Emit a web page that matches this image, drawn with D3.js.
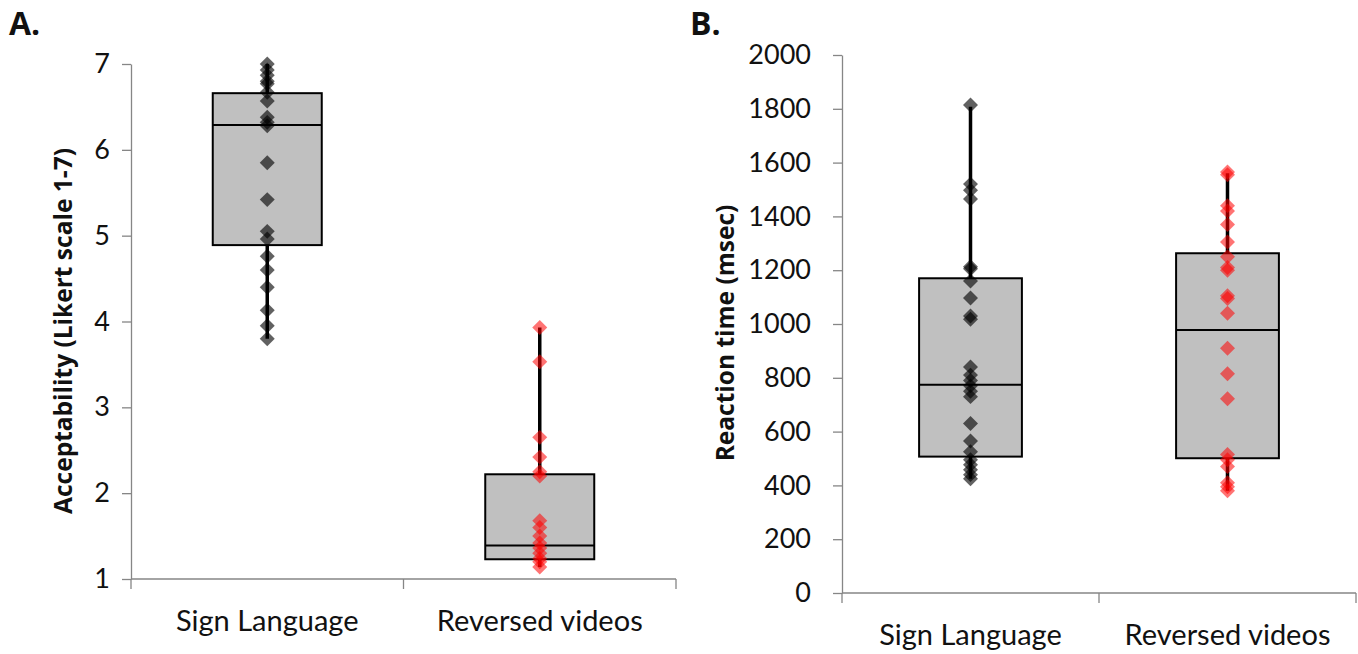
<!DOCTYPE html>
<html>
<head>
<meta charset="utf-8">
<script src="https://cdn.jsdelivr.net/npm/d3@7"></script>
<style>
  html, body { margin: 0; padding: 0; background: #fff; }
  svg { display: block; font-family: Lato, "Open Sans", sans-serif; }
</style>
</head>
<body>
<svg id="chart" width="1358" height="654"></svg>
<script>
// ---------- data ----------
const categories = ["Sign Language", "Reversed videos"];

// Panel A: acceptability (Likert 1-7)
const ticksA = [1, 2, 3, 4, 5, 6, 7];
const signA = [7.0, 6.93, 6.87, 6.8, 6.77, 6.67, 6.57, 6.38, 6.32, 6.28, 5.85, 5.42, 5.05, 4.96, 4.76, 4.6, 4.4, 4.13, 3.95, 3.8];
const revA = [3.93, 3.53, 2.65, 2.42, 2.25, 2.2, 1.68, 1.6, 1.5, 1.42, 1.36, 1.3, 1.24, 1.2, 1.14];
const minA = [3.80, 1.14];
const q1A = [4.89, 1.23];
const medA = [6.29, 1.39];
const q3A = [6.66, 2.22];
const maxA = [7.0, 3.93];

// Panel B: reaction time (msec)
const ticksB = [0, 200, 400, 600, 800, 1000, 1200, 1400, 1600, 1800, 2000];
const signB = [1814, 1520, 1497, 1465, 1213, 1205, 1160, 1097, 1030, 1018, 840, 810, 790, 770, 750, 730, 630, 565, 525, 495, 477, 458, 440, 425];
const revB = [1565, 1555, 1440, 1420, 1370, 1305, 1250, 1210, 1200, 1105, 1095, 1040, 910, 815, 722, 515, 495, 470, 410, 395, 380];
const minB = [425, 380];
const q1B = [507, 501];
const medB = [774, 978];
const q3B = [1170, 1263];
const maxB = [1808, 1560];

const pointColors = ["#000000", "#ff0000"];

// ---------- drawing ----------
const svg = d3.select("#chart");

function panel(opt) {
  const g = svg.append("g");
  const x = d3.scaleBand().domain(categories).range(opt.xRange).paddingInner(0).paddingOuter(0);
  const y = d3.scaleLinear().domain(opt.yDomain).range(opt.yRange);
  const bw = x.bandwidth();
  const boxW = bw * 0.4;

  // y axis
  const yAxis = g.append("g")
    .attr("transform", `translate(${opt.xRange[0]},0)`)
    .call(d3.axisLeft(y).tickValues(opt.ticks).tickFormat(d3.format("d"))
      .tickSize(9).tickSizeOuter(0).tickPadding(opt.tickPad));
  yAxis.attr("font-family", null).attr("font-size", null);
  yAxis.select(".domain").attr("stroke", "#868686").attr("stroke-width", 1.3);
  yAxis.selectAll(".tick line").attr("stroke", "#868686").attr("stroke-width", 1.3);
  yAxis.selectAll(".tick text").attr("font-size", 27).attr("fill", "#111")
    .attr("font-family", "Lato, sans-serif");

  // x axis
  const yBase = y(opt.yDomain[0]);
  const xa = g.append("g");
  xa.append("line")
    .attr("x1", opt.xRange[0]).attr("x2", opt.xRange[1])
    .attr("y1", yBase).attr("y2", yBase)
    .attr("stroke", "#868686").attr("stroke-width", 1.3);
  const bounds = categories.map(c => x(c)).concat([x(categories[categories.length - 1]) + bw]);
  xa.selectAll("line.tk").data(bounds).join("line").attr("class", "tk")
    .attr("x1", d => d).attr("x2", d => d)
    .attr("y1", yBase).attr("y2", yBase + 10)
    .attr("stroke", "#868686").attr("stroke-width", 1.3);
  xa.selectAll("text").data(categories).join("text")
    .attr("x", d => x(d) + bw / 2)
    .attr("y", yBase + 52)
    .attr("text-anchor", "middle")
    .attr("font-size", 29)
    .attr("fill", "#111")
    .text(d => d);

  // whiskers
  g.selectAll("line.wh").data(categories).join("line").attr("class", "wh")
    .attr("x1", d => x(d) + bw / 2).attr("x2", d => x(d) + bw / 2)
    .attr("y1", (d, i) => y(opt.max[i])).attr("y2", (d, i) => y(opt.min[i]))
    .attr("stroke", "#000").attr("stroke-width", 3.5);

  // boxes
  g.selectAll("rect.box").data(categories).join("rect").attr("class", "box")
    .attr("x", d => x(d) + bw / 2 - boxW / 2)
    .attr("width", boxW)
    .attr("y", (d, i) => y(opt.q3[i]))
    .attr("height", (d, i) => y(opt.q1[i]) - y(opt.q3[i]))
    .attr("fill", "#c0c0c0").attr("stroke", "#000").attr("stroke-width", 2);
  g.selectAll("line.med").data(categories).join("line").attr("class", "med")
    .attr("x1", d => x(d) + bw / 2 - boxW / 2).attr("x2", d => x(d) + bw / 2 + boxW / 2)
    .attr("y1", (d, i) => y(opt.med[i])).attr("y2", (d, i) => y(opt.med[i]))
    .attr("stroke", "#000").attr("stroke-width", 2);

  // points
  const sym = d3.symbol().type(d3.symbolSquare).size(112);
  opt.series.forEach((vals, si) => {
    const cx = x(categories[si]) + bw / 2;
    g.selectAll(null).data(vals).join("path")
      .attr("d", sym)
      .attr("transform", d => `translate(${cx},${y(d)}) rotate(45)`)
      .attr("fill", pointColors[si])
      .attr("fill-opacity", si === 0 ? 0.62 : 0.55);
  });

  // axis title
  g.append("text")
    .attr("transform", `translate(${opt.titleX},${opt.titleY}) rotate(-90)`)
    .attr("text-anchor", "middle")
    .attr("font-family", "'Open Sans', sans-serif")
    .attr("font-weight", "bold")
    .attr("font-size", 24.5)
    .attr("fill", "#111")
    .text(opt.title);

  // panel letter
  g.append("text")
    .attr("x", opt.letterX).attr("y", 35)
    .attr("font-family", "'Open Sans', sans-serif")
    .attr("font-weight", "bold").attr("font-size", 32).attr("fill", "#111")
    .text(opt.letter);
}

panel({
  xRange: [131, 676], yDomain: [1, 7], yRange: [579, 64], ticks: ticksA, tickPad: 12,
  series: [signA, revA], min: minA, q1: q1A, med: medA, q3: q3A, max: maxA,
  title: "Acceptability (Likert scale 1-7)", titleX: 72, titleY: 331,
  letter: "A.", letterX: 9
});

panel({
  xRange: [842, 1356], yDomain: [0, 2000], yRange: [593, 55], ticks: ticksB, tickPad: 22,
  series: [signB, revB], min: minB, q1: q1B, med: medB, q3: q3B, max: maxB,
  title: "Reaction time (msec)", titleX: 734, titleY: 333,
  letter: "B.", letterX: 690
});
</script>
</body>
</html>
